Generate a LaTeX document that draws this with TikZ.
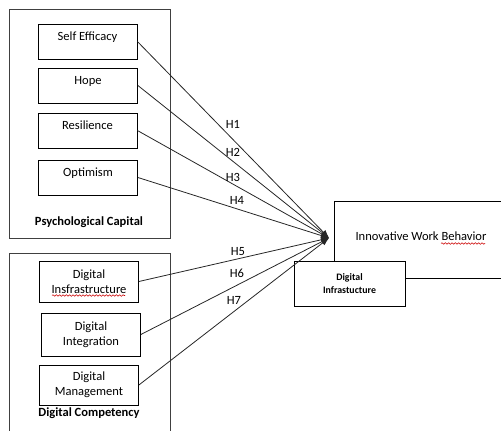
\documentclass[tikz,border=0pt]{standalone}
\usepackage{fontspec}
\setmainfont{Carlito}
\usetikzlibrary{arrows.meta,decorations.pathmorphing}
\begin{document}
\begin{tikzpicture}[x=0.75pt,y=-0.75pt,
  font=\fontsize{9.4}{11.2}\selectfont,
  outer/.style={draw=black!75,line width=0.6pt},
  box/.style={draw,line width=0.6pt,fill=white,minimum width=74.25pt,align=center,inner sep=0pt},
  onel/.style={box,minimum height=26.25pt,text height=6.5pt,text depth=8.5pt},
  twol/.style={box},
  grp/.style={font=\fontsize{9.4}{11.2}\selectfont\bfseries},
  conn/.style={draw=black!85,line width=0.6pt,-{Latex[length=6pt,width=4.5pt]}},
  hlab/.style={inner sep=0pt},
  squig/.style={draw=red!80!black,line width=0.4pt,decorate,decoration={snake,amplitude=0.6pt,segment length=2.5pt}}]
\useasboundingbox (0,0) rectangle (501,431);
\clip (0,0) rectangle (501,431);

% group frames
\draw[outer] (9,9) rectangle (170,238);
\draw[outer] (9,445) |- (170,253) -- (170,445);

% Psychological capital items
\node[onel] (se)  at (87.5,41.5) {Self Efficacy};
\node[onel] (hope) at (88,85.5) {Hope};
\node[onel] (res) at (87.5,130.5) {Resilience};
\node[onel] (opt) at (88,177.5) {Optimism};
\node[grp] (pc) at (89,222) {Psychological Capital};

% Digital competency items
\node[twol,minimum height=30.75pt] (dinf) at (89,281.5) {Digital\\Insfrastructure};
\node[twol,minimum height=32.25pt] (dint) at (91,334.5) {Digital\\Integration};
\node[twol,minimum height=30pt] (dman) at (89,385) {Digital\\Management};
\node[grp] (dc) at (89,413) {Digital Competency};

% outcome
\node[box,minimum width=130.5pt,minimum height=57.75pt,text height=6.5pt,text depth=5.7pt] (iwb) at (421,239.5) {Innovative Work Behavior};
\node[box,minimum width=83.25pt,minimum height=33.75pt,font=\fontsize{7.4}{9.8}\selectfont\bfseries] (di) at (349.5,283.5) {Digital\\Infrastucture};

\coordinate (conv) at (329,238);

% connectors
\draw[conn] (se.east) -- (conv);
\draw[conn] (hope.east) -- (conv);
\draw[conn] (res.east) -- (conv);
\draw[conn] (opt.east) -- (conv);
\draw[conn] (dinf.east) -- (conv);
\draw[conn] (dint.east) -- (conv);
\draw[conn] (dman.east) -- (conv);

% hypothesis labels
\node[hlab] (h1) at (233,124) {H1};
\node[hlab] (h2) at (233,152) {H2};
\node[hlab] (h3) at (233,177) {H3};
\node[hlab] (h4) at (237,200) {H4};
\node[hlab] (h5) at (238,252) {H5};
\node[hlab] (h6) at (237,273) {H6};
\node[hlab] (h7) at (234,300) {H7};

% spell-check underlines
\draw[squig] (52,295.5) -- (125,295.5);
\draw[squig] (441,243.5) -- (485,243.5);
\end{tikzpicture}
\end{document}
